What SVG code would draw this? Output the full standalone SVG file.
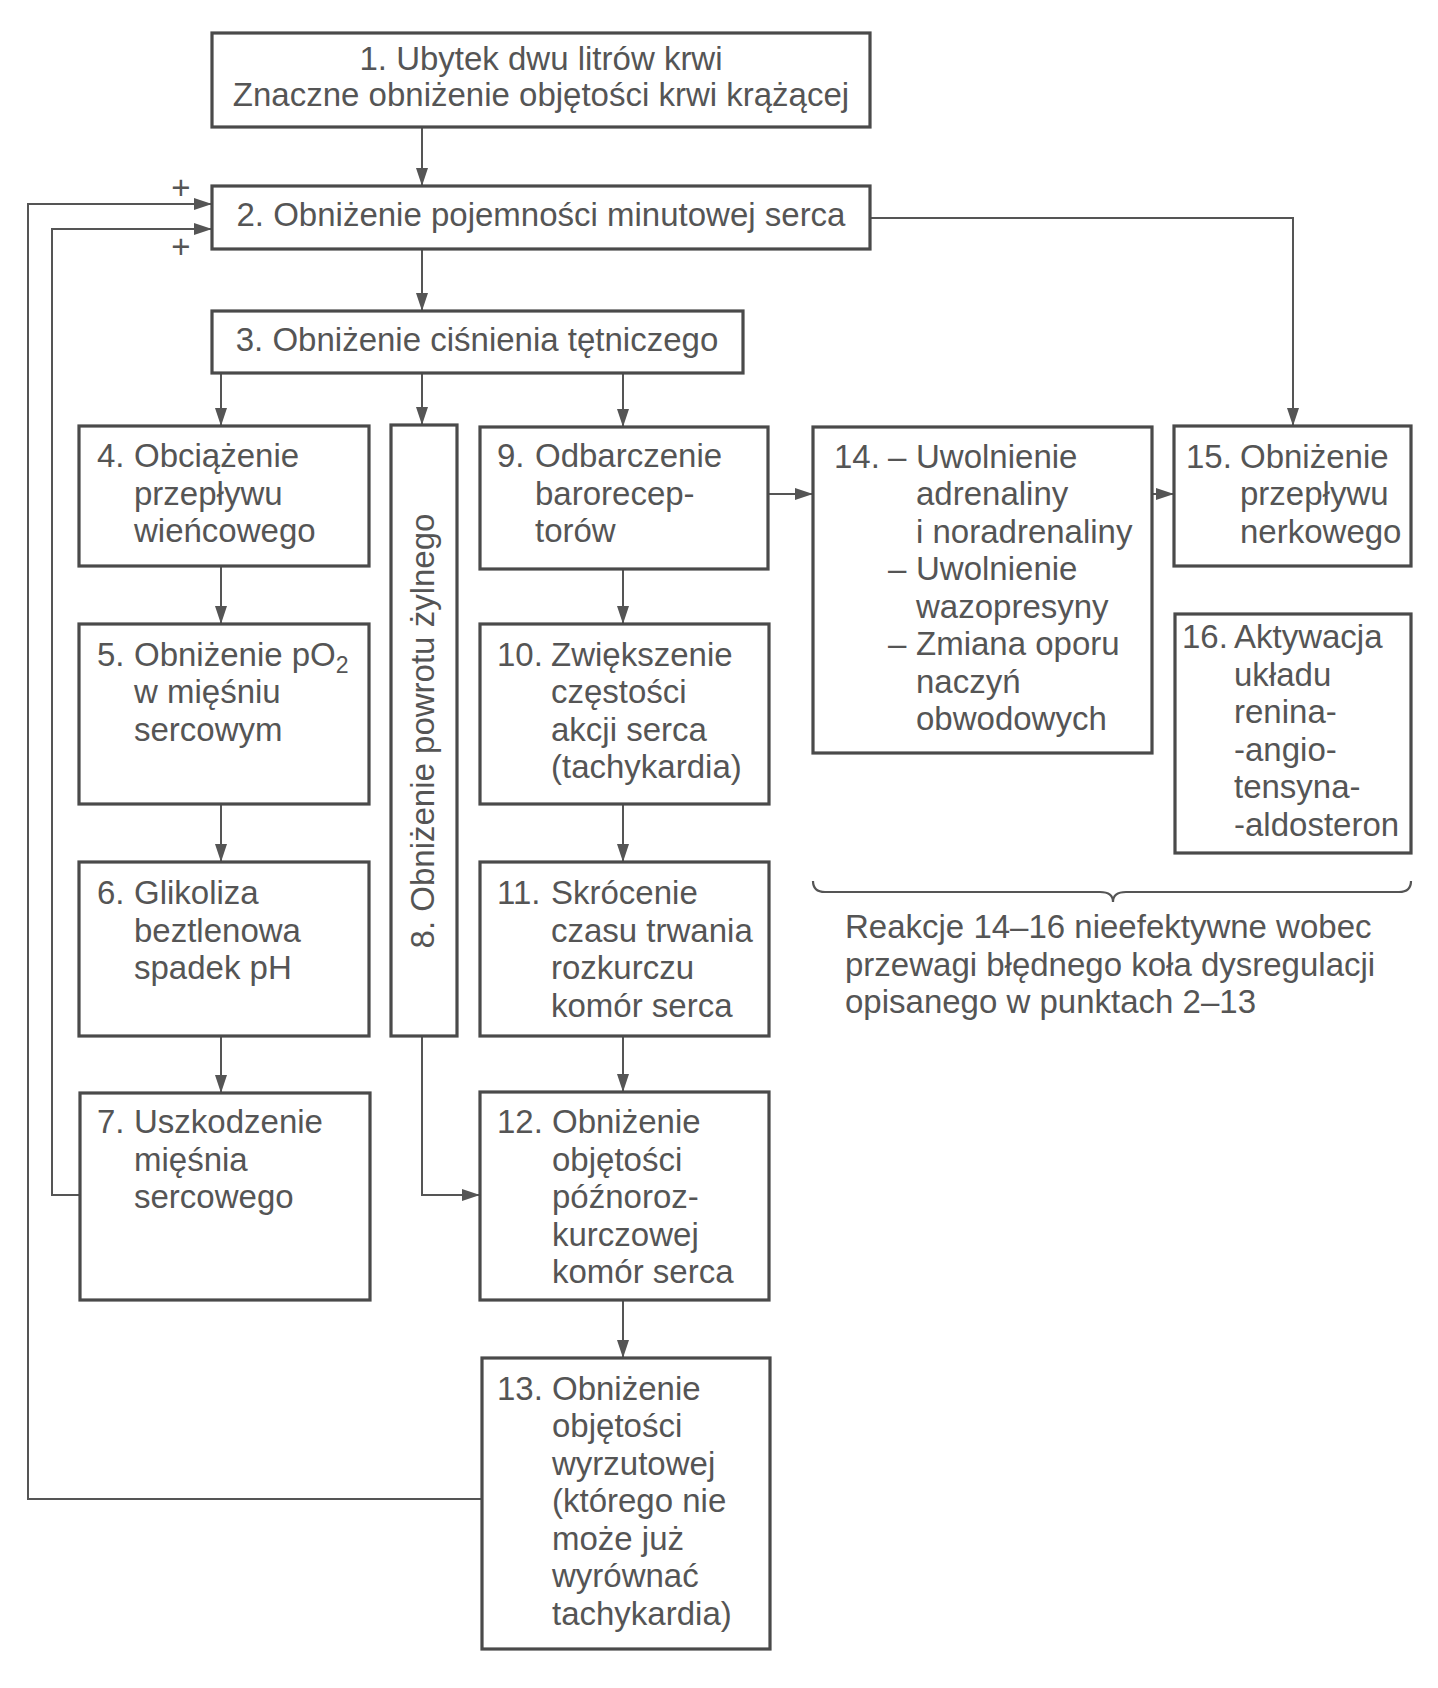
<svg xmlns="http://www.w3.org/2000/svg" width="1438" height="1688" viewBox="0 0 1438 1688">
<defs>
<style>
.box{fill:#fff;stroke:#4a4a4a;stroke-width:3.2}
.t{font-family:"Liberation Sans",Arial,sans-serif;font-size:33px;fill:#555}
.c{text-anchor:middle}
.ln{fill:none;stroke:#555;stroke-width:2}
.br{fill:none;stroke:#555;stroke-width:2.2}
</style>
<marker id="ah" markerUnits="userSpaceOnUse" markerWidth="18" markerHeight="12" refX="18" refY="6" orient="auto">
<path d="M0,0 L18,6 L0,12 z" fill="#555"/>
</marker>
</defs>
<rect width="1438" height="1688" fill="#fff"/>

<g id="connectors">
<path class="ln" d="M422,127 V186" marker-end="url(#ah)"/>
<path class="ln" d="M422,249 V311" marker-end="url(#ah)"/>
<path class="ln" d="M221,373 V426" marker-end="url(#ah)"/>
<path class="ln" d="M422,373 V425" marker-end="url(#ah)"/>
<path class="ln" d="M623,373 V427" marker-end="url(#ah)"/>
<path class="ln" d="M870,218 H1293 V426" marker-end="url(#ah)"/>
<path class="ln" d="M768,494 H813" marker-end="url(#ah)"/>
<path class="ln" d="M1152,494 H1174" marker-end="url(#ah)"/>
<path class="ln" d="M221,566 V624" marker-end="url(#ah)"/>
<path class="ln" d="M221,804 V862" marker-end="url(#ah)"/>
<path class="ln" d="M221,1036 V1093" marker-end="url(#ah)"/>
<path class="ln" d="M623,569 V624" marker-end="url(#ah)"/>
<path class="ln" d="M623,804 V862" marker-end="url(#ah)"/>
<path class="ln" d="M623,1036 V1092" marker-end="url(#ah)"/>
<path class="ln" d="M623,1300 V1358" marker-end="url(#ah)"/>
<path class="ln" d="M422,1036 V1195 H480" marker-end="url(#ah)"/>
<path class="ln" d="M80,1195 H52 V229 H212" marker-end="url(#ah)"/>
<path class="ln" d="M482,1499 H28 V204 H212" marker-end="url(#ah)"/>
<text class="t c" x="181" y="199" font-size="30">+</text>
<text class="t c" x="181" y="258" font-size="30">+</text>
</g>

<g id="n1">
<rect class="box" x="212" y="33" width="658" height="94"/>
<text class="t c" x="541" y="70">1. Ubytek dwu litrów krwi</text>
<text class="t c" x="541" y="106">Znaczne obniżenie objętości krwi krążącej</text>
</g>

<g id="n2">
<rect class="box" x="212" y="186" width="658" height="63"/>
<text class="t c" x="541" y="226">2. Obniżenie pojemności minutowej serca</text>
</g>

<g id="n3">
<rect class="box" x="212" y="311" width="531" height="62"/>
<text class="t c" x="477" y="351">3. Obniżenie ciśnienia tętniczego</text>
</g>

<g id="n4">
<rect class="box" x="79" y="426" width="290" height="140"/>
<text class="t" x="97" y="467">4.</text>
<text class="t" x="134" y="467">Obciążenie</text>
<text class="t" x="134" y="504.5">przepływu</text>
<text class="t" x="134" y="542">wieńcowego</text>
</g>

<g id="n5">
<rect class="box" x="79" y="624" width="290" height="180"/>
<text class="t" x="97" y="665.5">5.</text>
<text class="t" x="134" y="665.5">Obniżenie pO<tspan font-size="23" dy="7">2</tspan></text>
<text class="t" x="134" y="703">w mięśniu</text>
<text class="t" x="134" y="740.5">sercowym</text>
</g>

<g id="n6">
<rect class="box" x="79" y="862" width="290" height="174"/>
<text class="t" x="97" y="904">6.</text>
<text class="t" x="134" y="904">Glikoliza</text>
<text class="t" x="134" y="941.5">beztlenowa</text>
<text class="t" x="134" y="979">spadek pH</text>
</g>

<g id="n7">
<rect class="box" x="80" y="1093" width="290" height="207"/>
<text class="t" x="97" y="1133">7.</text>
<text class="t" x="134" y="1133">Uszkodzenie</text>
<text class="t" x="134" y="1170.5">mięśnia</text>
<text class="t" x="134" y="1208">sercowego</text>
</g>

<g id="n8">
<rect class="box" x="391" y="425" width="66" height="611"/>
<text class="t c" transform="translate(434,731) rotate(-90)" x="0" y="0">8. Obniżenie powrotu żylnego</text>
</g>

<g id="n9">
<rect class="box" x="480" y="427" width="288" height="142"/>
<text class="t" x="497" y="467">9.</text>
<text class="t" x="535" y="467">Odbarczenie</text>
<text class="t" x="535" y="504.5">barorecep-</text>
<text class="t" x="535" y="542">torów</text>
</g>

<g id="n10">
<rect class="box" x="480" y="624" width="289" height="180"/>
<text class="t" x="497" y="665.5">10.</text>
<text class="t" x="551" y="665.5">Zwiększenie</text>
<text class="t" x="551" y="703">częstości</text>
<text class="t" x="551" y="740.5">akcji serca</text>
<text class="t" x="551" y="778">(tachykardia)</text>
</g>

<g id="n11">
<rect class="box" x="480" y="862" width="289" height="174"/>
<text class="t" x="497" y="904">11.</text>
<text class="t" x="551" y="904">Skrócenie</text>
<text class="t" x="551" y="941.5">czasu trwania</text>
<text class="t" x="551" y="979">rozkurczu</text>
<text class="t" x="551" y="1016.5">komór serca</text>
</g>

<g id="n12">
<rect class="box" x="480" y="1092" width="289" height="208"/>
<text class="t" x="497" y="1133">12.</text>
<text class="t" x="552" y="1133">Obniżenie</text>
<text class="t" x="552" y="1170.5">objętości</text>
<text class="t" x="552" y="1208">późnoroz-</text>
<text class="t" x="552" y="1245.5">kurczowej</text>
<text class="t" x="552" y="1283">komór serca</text>
</g>

<g id="n13">
<rect class="box" x="482" y="1358" width="288" height="291"/>
<text class="t" x="497" y="1399.5">13.</text>
<text class="t" x="552" y="1399.5">Obniżenie</text>
<text class="t" x="552" y="1437">objętości</text>
<text class="t" x="552" y="1474.5">wyrzutowej</text>
<text class="t" x="552" y="1512">(którego nie</text>
<text class="t" x="552" y="1549.5">może już</text>
<text class="t" x="552" y="1587">wyrównać</text>
<text class="t" x="552" y="1624.5">tachykardia)</text>
</g>

<g id="n14">
<rect class="box" x="813" y="427" width="339" height="326"/>
<text class="t" x="834" y="467.5">14.</text>
<text class="t" x="888" y="467.5">–</text>
<text class="t" x="916" y="467.5">Uwolnienie</text>
<text class="t" x="916" y="505">adrenaliny</text>
<text class="t" x="916" y="542.5">i noradrenaliny</text>
<text class="t" x="888" y="580">–</text>
<text class="t" x="916" y="580">Uwolnienie</text>
<text class="t" x="916" y="617.5">wazopresyny</text>
<text class="t" x="888" y="655">–</text>
<text class="t" x="916" y="655">Zmiana oporu</text>
<text class="t" x="916" y="692.5">naczyń</text>
<text class="t" x="916" y="730">obwodowych</text>
</g>

<g id="n15">
<rect class="box" x="1174" y="426" width="237" height="140"/>
<text class="t" x="1186" y="467.5">15.</text>
<text class="t" x="1240" y="467.5">Obniżenie</text>
<text class="t" x="1240" y="505">przepływu</text>
<text class="t" x="1240" y="542.5">nerkowego</text>
</g>

<g id="n16">
<rect class="box" x="1175" y="614" width="236" height="239"/>
<text class="t" x="1182" y="648">16.</text>
<text class="t" x="1234" y="648">Aktywacja</text>
<text class="t" x="1234" y="685.5">układu</text>
<text class="t" x="1234" y="723">renina-</text>
<text class="t" x="1234" y="760.5">-angio-</text>
<text class="t" x="1234" y="798">tensyna-</text>
<text class="t" x="1234" y="835.5">-aldosteron</text>
</g>

<g id="note">
<path class="br" d="M813,881 Q813,892 825,892 H1100 Q1113,892 1113,902 Q1113,892 1126,892 H1399 Q1411,892 1411,881"/>
<text class="t" x="845" y="938">Reakcje 14–16 nieefektywne wobec</text>
<text class="t" x="845" y="975.5">przewagi błędnego koła dysregulacji</text>
<text class="t" x="845" y="1013">opisanego w punktach 2–13</text>
</g>
</svg>
